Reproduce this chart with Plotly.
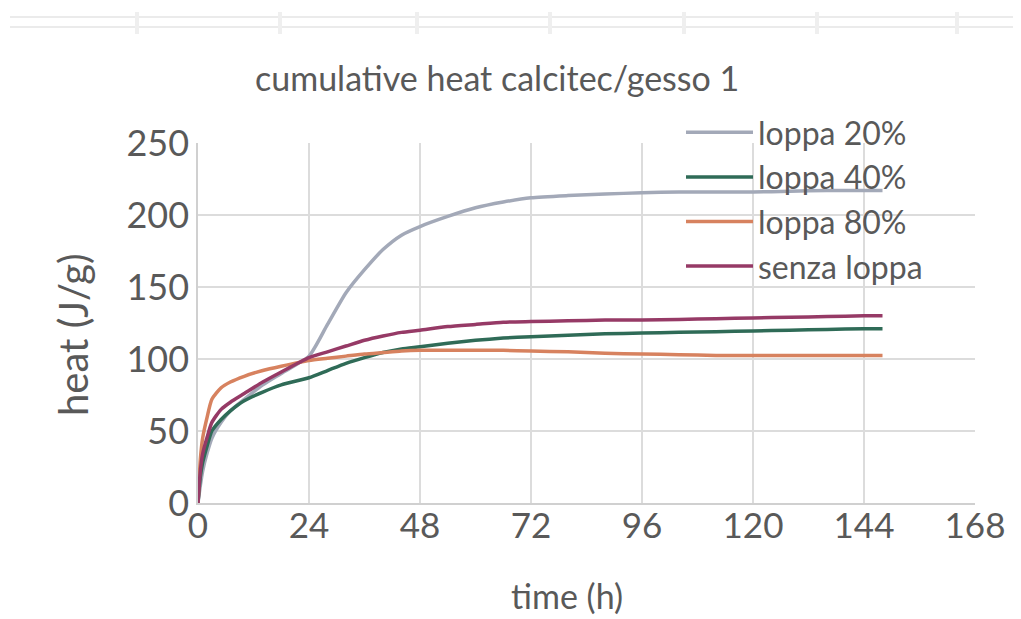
import plotly.graph_objects as go

time_h = [0, 0.5, 1, 2, 3, 5, 7, 10, 14, 18, 24, 28, 32, 36, 40, 44, 48, 54, 60, 66, 72, 80, 88, 96, 104, 112, 120, 128, 136, 144, 148]

loppa_20 = [0, 12, 22, 35, 45, 56, 64, 72, 82, 90, 102, 124, 146, 162, 176, 186, 192, 199, 205, 209, 212, 213.5, 214.5, 215.5, 216, 216, 216, 216.5, 217, 217, 217]
loppa_40 = [0, 18, 28, 40, 50, 58, 64, 71, 77, 82, 87, 92, 97, 101, 104.5, 107, 108.5, 111, 113, 114.5, 115.5, 116.5, 117.5, 118, 118.5, 119, 119.5, 120, 120.5, 121, 121]
loppa_80 = [0, 30, 45, 60, 72, 80, 84, 88, 92, 95, 99, 100.5, 102, 103.5, 104.5, 105.5, 106, 106, 106, 106, 105.5, 105, 104, 103.5, 103, 102.5, 102.5, 102.5, 102.5, 102.5, 102.5]
senza_loppa = [0, 22, 34, 46, 56, 65, 70, 76, 84, 91, 101, 105, 109, 113, 116, 118.5, 120, 122.5, 124, 125.5, 126, 126.5, 127, 127, 127.5, 128, 128.5, 129, 129.5, 130, 130]

series_names = ["loppa 20%", "loppa 40%", "loppa 80%", "senza loppa"]
series_values = [loppa_20, loppa_40, loppa_80, senza_loppa]
series_colors = ["#a3a9b8", "#2f6b57", "#d7825f", "#963a66"]

x_ticks = [0, 24, 48, 72, 96, 120, 144, 168]
y_ticks = [0, 50, 100, 150, 200, 250]

title_text = "cumulative heat calcitec/gesso 1"
x_title = "time (h)"
y_title = "heat (J/g)"

FONT = "Lato"
GREY = "#595959"

fig = go.Figure()
for name, vals, col in zip(series_names, series_values, series_colors):
    fig.add_trace(go.Scatter(x=time_h, y=vals, name=name, mode="lines",
                             line=dict(color=col, width=3.5, shape="spline", smoothing=0.6)))

# page body has an 8px margin; work in window pixels and convert
OFF = 8
W, H = 1021 - OFF, 619 - OFF
PX0, PX1, PY0, PY1 = 198, 975, 143, 503   # plot area in window px
PW, PH = PX1 - PX0, PY1 - PY0
L, T = PX0 - OFF, PY0 - OFF
R, B = W - L - PW, H - T - PH


def fx(px):
    return (px - PX0) / PW


def fy(py):
    return (PY1 - py) / PH


fig.update_layout(
    width=W, height=H,
    margin=dict(l=L, r=R, t=T, b=B, autoexpand=False),
    paper_bgcolor="white", plot_bgcolor="white",
    font=dict(family=FONT, color=GREY),
    showlegend=True,
    legend=dict(x=fx(681), y=fy(105), xanchor="left", yanchor="top",
                bgcolor="rgba(0,0,0,0)", font=dict(size=32, color=GREY, family=FONT),
                itemwidth=67, tracegroupgap=0),
    xaxis=dict(range=[0, 168], tickvals=x_ticks, ticktext=[str(v) for v in x_ticks],
               showgrid=True, gridcolor="#dcdcdc", gridwidth=1.5,
               showline=True, linecolor="#d0d0d0", linewidth=1.5,
               tickfont=dict(size=35, color=GREY, family=FONT), ticks="",
               ticklabelstandoff=-9, zeroline=False),
    yaxis=dict(range=[0, 250], tickvals=y_ticks, ticktext=[str(v) for v in y_ticks],
               showgrid=True, gridcolor="#dcdcdc", gridwidth=1.5,
               showline=True, linecolor="#d0d0d0", linewidth=1.5,
               tickfont=dict(size=36, color=GREY, family=FONT), ticks="", zeroline=False),
    annotations=[
        dict(text=title_text, x=fx(497), y=fy(78), xref="paper", yref="paper",
             showarrow=False, font=dict(size=34, color=GREY, family=FONT),
             xanchor="center", yanchor="middle"),
        dict(text=x_title, x=fx(567), y=fy(595), xref="paper", yref="paper",
             showarrow=False, font=dict(size=34, color=GREY, family=FONT),
             xanchor="center", yanchor="middle"),
        dict(text=y_title, x=fx(73), y=fy(335), xref="paper", yref="paper",
             showarrow=False, textangle=-90, font=dict(size=40, color=GREY, family=FONT),
             xanchor="center", yanchor="middle"),
    ],
)

# faint double line with small marks at the very top of the picture
for ypx in (17, 27):
    fig.add_shape(type="line", xref="paper", yref="paper",
                  x0=fx(10), x1=fx(1021), y0=fy(ypx), y1=fy(ypx),
                  line=dict(color="#ebebeb", width=2))
for xpx in (137, 280, 417, 550, 684, 817, 957):
    fig.add_shape(type="line", xref="paper", yref="paper",
                  x0=fx(xpx), x1=fx(xpx), y0=fy(12), y1=fy(34),
                  line=dict(color="#efefef", width=4))

fig.write_html("out.html")
